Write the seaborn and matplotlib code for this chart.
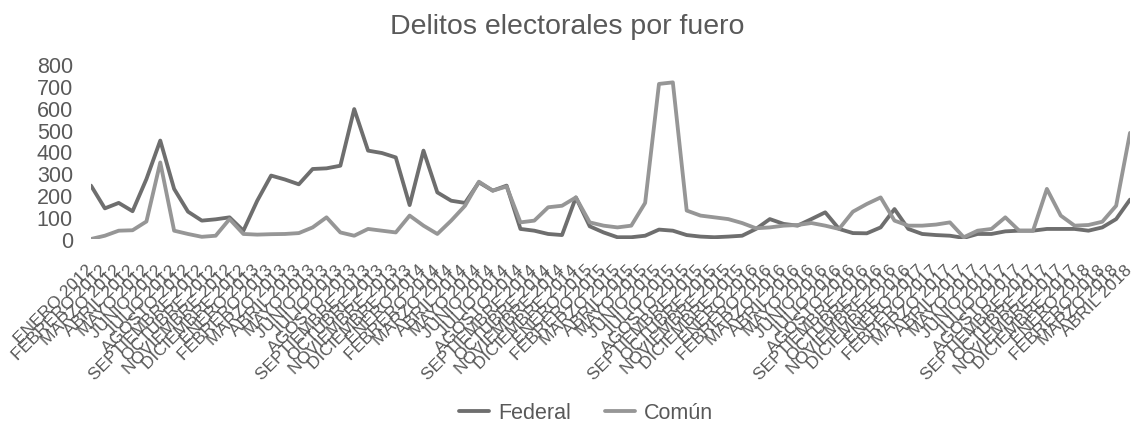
import matplotlib
matplotlib.use("Agg")
import matplotlib.pyplot as plt
import seaborn as sns
import pandas as pd

# Monthly electoral crimes by jurisdiction, January 2012 onwards
meses = ["ENERO", "FEBRERO", "MARZO", "ABRIL", "MAYO", "JUNIO", "JULIO",
         "AGOSTO", "SEPTIEMBRE", "OCTUBRE", "NOVIEMBRE", "DICIEMBRE"]
anios = [2012, 2013, 2014, 2015, 2016, 2017, 2018]

federal = [244, 140, 165, 127, 274, 450, 229, 125, 84, 90,
           99, 38, 175, 290, 272, 250, 320, 323, 335, 594,
           404, 393, 373, 155, 404, 213, 175, 165, 259, 221,
           244, 46, 38, 23, 18, 190, 58, 30, 8, 8,
           15, 43, 38, 18, 11, 8, 11, 15, 46, 91,
           69, 61, 91, 122, 46, 27, 26, 53, 137, 46,
           23, 18, 15, 5, 23, 23, 35, 38, 38, 46,
           46, 46, 38, 53, 91, 180]

comun = [0, 15, 38, 40, 80, 350, 38, 23, 10, 15,
         91, 23, 20, 22, 23, 27, 53, 99, 30, 15,
         46, 38, 30, 107, 61, 23, 84, 152, 262, 221,
         240, 76, 84, 145, 152, 190, 76, 61, 53, 61,
         165, 709, 716, 130, 107, 99, 91, 73, 49, 53,
         61, 64, 73, 61, 46, 125, 160, 190, 84, 61,
         61, 66, 76, 8, 38, 46, 99, 38, 38, 229,
         107, 61, 64, 79, 152, 485]

periodos = [f"{m} {a}" for a in anios for m in meses][:len(federal)]

df = pd.DataFrame({
    "idx": range(len(periodos)),
    "periodo": periodos,
    "Federal": federal,
    "Común": comun,
})
largo = df.melt(id_vars=["idx", "periodo"], value_vars=["Federal", "Común"],
                var_name="fuero", value_name="delitos")

sns.set_theme(style="white")
plt.rcParams["font.family"] = ["Liberation Sans", "DejaVu Sans"]
texto = "#595959"

W, H = 1134, 431
fig = plt.figure(figsize=(W / 100, H / 100), dpi=100)
ax = fig.add_axes([91 / W, 1 - 240 / H, (1130 - 91) / W, 175 / H])

sns.lineplot(data=largo, x="idx", y="delitos", hue="fuero",
             palette={"Federal": "#6e6e6e", "Común": "#969696"},
             linewidth=2.75, ax=ax)

ax.set_xlim(0, len(periodos) - 1)
ax.set_ylim(0, 800)
ax.set_yticks(range(0, 801, 100))
ax.set_xticks(df["idx"])
ax.set_xticklabels(periodos, rotation=45, ha="right", va="center",
                   rotation_mode="anchor", fontsize=12.5, color=texto)
ax.tick_params(axis="y", labelsize=15.5, labelcolor=texto, length=0, pad=13)
ax.tick_params(axis="x", length=0, pad=20)
ax.set_xlabel("")
ax.set_ylabel("")
sns.despine(ax=ax, left=True, bottom=True)

handles, labels = ax.get_legend_handles_labels()
ax.get_legend().remove()
fig.legend(handles, labels, loc="center", bbox_to_anchor=(586 / W, 1 - 414 / H),
           ncol=2, frameon=False, fontsize=15.5, handlelength=1.4,
           handletextpad=0.4, columnspacing=1.6, labelcolor=texto)

fig.text(0.5, 1 - 27 / H, "Delitos electorales por fuero", ha="center",
         va="center", fontsize=20.5, color=texto)

fig.savefig("out.png", dpi=100)
